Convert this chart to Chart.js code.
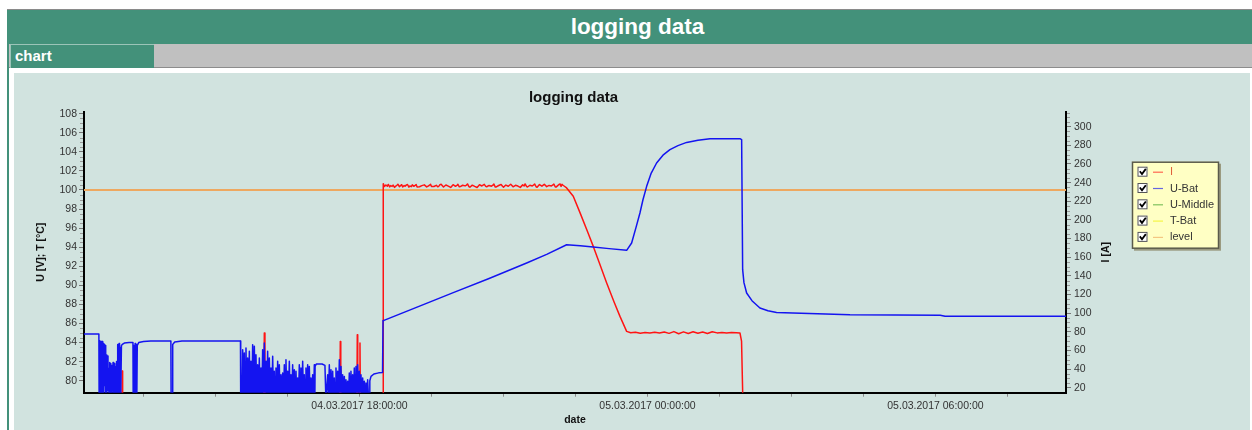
<!DOCTYPE html>
<html>
<head>
<meta charset="utf-8">
<title>logging data</title>
<script src="https://cdn.jsdelivr.net/npm/chart.js@4.4.0/dist/chart.umd.min.js"></script>
<style>
  body { margin: 0; width: 1252px; height: 430px; overflow: hidden; background: #fff; position: relative;
         font-family: "Liberation Sans", Arial, sans-serif; }
  #topline { position: absolute; left: 7px; top: 9px; width: 1245px; height: 1px; background: #8a8a8a; }
  #header { position: absolute; left: 7px; top: 10px; width: 1261px; height: 34px; background: #43917a;
            color: #fff; font-weight: bold; font-size: 22.5px; line-height: 34px; text-align: center; }
  #leftbar { position: absolute; left: 7px; top: 44px; width: 2px; height: 386px; background: #43917a; }
  #tabbar { position: absolute; left: 9px; top: 44px; width: 1243px; height: 23px; background: #c0c0c0;
            border-bottom: 1px solid #8c8c8c; }
  #tab { position: absolute; left: 10px; top: 44px; width: 144px; height: 24px; box-sizing: border-box;
         background: #43917a; border-top: 1px solid #9cc4b8; border-left: 1px solid #9cc4b8;
         color: #fff; font-weight: bold; font-size: 15px; line-height: 22px; padding-left: 4px; }
  #panel { position: absolute; left: 14px; top: 73px; width: 1236px; height: 357px; background: #d1e3df; }
  canvas { display: block; }
</style>
</head>
<body>
<div id="topline"></div>
<div id="header">logging data</div>
<div id="leftbar"></div>
<div id="tabbar"></div>
<div id="tab">chart</div>
<div id="panel"><canvas id="chart" width="1236" height="357"></canvas></div>

<script>
// x values are hours counted from 04.03.2017 00:00
var xMin = 12.26;
var xMax = 32.72;
var xTickHours = [13.5, 15, 16.5, 18, 19.5, 21, 22.5, 24, 25.5, 27, 28.5, 30, 31.5];
var xLabelHours = [18, 24, 30];
var xLabelTexts = ['04.03.2017 18:00:00', '05.03.2017 00:00:00', '05.03.2017 06:00:00'];

var uMin = 78.74, uMax = 108.21;   // left axis, U [V]; T [°C]
var iMin = 14.64, iMax = 316.09;   // right axis, I [A]

// U-Bat [hours, volts]
var uBatData = [
  [12.26, 84.9], [12.57, 84.9], [12.575, 78],
  [12.59, 84.2], [12.6, 78], [12.615, 84.1], [12.625, 78], [12.641, 84.1], [12.65, 78],
  [12.662, 83.9], [12.67, 78], [12.68, 83.8], [12.69, 79.5], [12.702, 83.7], [12.712, 78],
  [12.725, 82.7], [12.735, 78], [12.748, 82.6], [12.76, 79], [12.772, 81.3], [12.781, 78],
  [12.795, 81.9], [12.805, 78.5], [12.818, 81.8], [12.83, 78], [12.842, 81.6], [12.852, 79],
  [12.865, 81.9], [12.877, 78], [12.89, 81.8], [12.9, 78], [12.912, 81.5], [12.925, 78],
  [12.938, 82.0], [12.95, 78], [12.962, 83.8], [12.975, 78], [12.99, 83.9], [13.0, 78.5],
  [13.015, 83.5], [13.025, 78], [13.04, 83.7], [13.058, 83.8], [13.1, 83.95], [13.2, 84.0],
  [13.28, 84.0], [13.285, 78], [13.3, 83.7], [13.31, 78], [13.325, 83.9], [13.335, 78],
  [13.35, 83.8], [13.36, 78], [13.37, 83.7], [13.4, 84.0], [13.5, 84.1], [13.65, 84.15],
  [14.07, 84.15], [14.075, 78], [14.1, 78], [14.108, 83.8], [14.15, 84.05], [14.3, 84.15],
  [15.52, 84.15], [15.525, 78],
  [15.548, 78], [15.566, 83.25], [15.583, 78], [15.6, 82.9], [15.618, 78], [15.635, 83.43],
  [15.652, 78], [15.67, 82.38], [15.687, 78], [15.705, 83.08], [15.722, 78], [15.739, 82.03],
  [15.757, 78], [15.774, 83.77], [15.791, 78], [15.809, 83.6], [15.826, 78], [15.843, 82.72],
  [15.861, 78], [15.878, 81.68], [15.896, 78], [15.913, 82.38], [15.93, 78], [15.948, 81.33],
  [15.965, 78], [15.982, 83.25], [16.0, 78], [16.017, 83.95], [16.034, 78], [16.052, 82.03],
  [16.069, 78], [16.086, 83.08], [16.104, 78], [16.121, 82.38], [16.139, 78], [16.156, 81.33],
  [16.173, 78], [16.191, 82.55], [16.208, 78], [16.225, 80.98], [16.243, 78], [16.26, 81.33],
  [16.277, 78], [16.295, 82.03], [16.312, 78], [16.329, 81.68], [16.347, 78], [16.364, 80.63],
  [16.382, 78], [16.399, 80.8], [16.416, 78], [16.434, 81.68], [16.451, 78], [16.468, 82.2],
  [16.486, 78], [16.503, 80.98], [16.521, 78], [16.538, 82.03], [16.555, 78], [16.572, 80.63],
  [16.59, 78], [16.607, 81.68], [16.625, 78], [16.642, 81.15], [16.659, 78], [16.677, 80.98],
  [16.694, 78], [16.711, 80.28], [16.729, 78], [16.746, 81.68], [16.764, 78], [16.781, 81.33],
  [16.798, 78], [16.816, 82.03], [16.833, 78], [16.85, 80.63], [16.868, 78], [16.885, 81.33],
  [16.903, 78], [16.92, 81.68], [16.937, 78], [16.954, 81.5], [16.972, 78], [16.989, 80.28],
  [17.007, 78], [17.024, 80.63], [17.041, 78], [17.059, 81.68], [17.07, 78],
  [17.075, 81.5], [17.1, 81.75], [17.22, 81.75], [17.28, 81.6], [17.3, 78],
  [17.337, 80.63], [17.354, 78], [17.371, 81.68], [17.388, 78], [17.406, 81.15], [17.423, 78],
  [17.441, 80.98], [17.458, 78], [17.475, 80.28], [17.492, 78], [17.51, 81.33], [17.527, 78],
  [17.545, 80.98], [17.562, 78], [17.58, 82.2], [17.597, 78], [17.614, 81.5], [17.631, 78],
  [17.649, 80.63], [17.666, 78], [17.684, 80.45], [17.701, 78], [17.718, 80.1], [17.735, 78],
  [17.753, 79.93], [17.77, 78], [17.788, 80.8], [17.805, 78], [17.822, 80.98], [17.839, 78],
  [17.857, 80.63], [17.874, 78], [17.892, 81.33], [17.909, 78], [17.927, 81.5], [17.944, 78],
  [17.961, 81.68], [17.978, 78], [17.996, 80.98], [18.013, 78], [18.031, 80.63], [18.048, 78],
  [18.066, 80.28], [18.083, 78], [18.1, 79.93], [18.117, 78], [18.135, 79.76], [18.152, 78],
  [18.17, 80.1], [18.19, 78], [18.204, 78], [18.215, 80.0], [18.24, 80.45], [18.3, 80.7],
  [18.4, 80.82], [18.48, 80.85], [18.49, 86.3],
  [18.51, 86.32], [19.2, 87.72], [19.954, 89.24], [20.7, 90.72], [21.483, 92.34], [21.9, 93.25],
  [22.316, 94.26], [22.6, 94.15], [22.87, 94.02], [23.2, 93.85], [23.566, 93.67],
  [23.67, 94.44], [23.76, 96.05], [23.843, 97.59], [23.906, 98.98], [23.983, 100.38],
  [24.073, 101.71], [24.19, 102.83], [24.323, 103.65], [24.468, 104.23], [24.635, 104.65],
  [24.816, 104.99], [25.052, 105.22], [25.302, 105.38], [25.927, 105.38],
  [25.962, 105.28], [25.983, 91.64], [26.01, 90.28], [26.066, 89.2],
  [26.177, 88.39], [26.343, 87.62], [26.51, 87.34], [26.69, 87.16],
  [27.03, 87.1], [28.22, 86.92], [30.1, 86.87], [30.2, 86.76], [32.72, 86.76]
];

// I [hours, amperes]
var iData = [
  [12.26, 0], [13.05, 0], [13.058, 38], [13.065, 0],
  [16.005, 0], [16.017, 78.7], [16.03, 0],
  [17.59, 0], [17.6, 69.7], [17.61, 0],
  [17.945, 0], [17.954, 76.9], [17.963, 0],
  [18.0, 0], [18.01, 68], [18.02, 0],
  [18.49, 0], [18.495, 238.9],
  [18.52, 235.8], [18.55, 237.5], [18.58, 236.2], [18.6, 238.0], [18.63, 235.4], [18.65, 236.8],
  [18.68, 235.9], [18.7, 237.4], [18.73, 234.9], [18.75, 236.0], [18.78, 237.2], [18.8, 238.3],
  [18.83, 235.6], [18.85, 236.5], [18.88, 237.8], [18.9, 235.3], [18.93, 236.9], [18.95, 236.2],
  [18.98, 237.6], [19.0, 238.0], [19.03, 235.2], [19.05, 236.4], [19.08, 235.7], [19.1, 237.6],
  [19.13, 236.1], [19.15, 236.6], [19.18, 237.9], [19.2, 235.4], [19.25, 235.6], [19.3, 236.8],
  [19.35, 237.6], [19.4, 235.4], [19.43, 236.3], [19.45, 236.9], [19.48, 238.2], [19.5, 235.9],
  [19.55, 235.8], [19.6, 237.1], [19.63, 235.5], [19.65, 236.0], [19.68, 237.9], [19.7, 238.3],
  [19.75, 235.3], [19.8, 237.5], [19.85, 236.3], [19.9, 234.9], [19.95, 237.8], [20.0, 236.1],
  [20.03, 237.0], [20.05, 238.2], [20.08, 235.5], [20.1, 235.7], [20.15, 237.2], [20.2, 236.5],
  [20.23, 237.4], [20.25, 238.6], [20.28, 235.8], [20.3, 235.1], [20.35, 237.3], [20.4, 236.0],
  [20.45, 234.8], [20.5, 237.7], [20.55, 236.4], [20.6, 238.1], [20.63, 236.0], [20.65, 235.6],
  [20.7, 237.0], [20.75, 236.2], [20.78, 237.3], [20.8, 238.4], [20.83, 235.2], [20.85, 235.4],
  [20.9, 236.9], [20.95, 238.0], [20.98, 236.1], [21.0, 235.2], [21.05, 237.4], [21.1, 236.1],
  [21.15, 238.3], [21.2, 235.5], [21.25, 237.1], [21.3, 236.3], [21.35, 234.9], [21.4, 237.6],
  [21.43, 236.4], [21.45, 238.6], [21.48, 236.0], [21.5, 235.3], [21.55, 237.2], [21.6, 236.4],
  [21.63, 237.6], [21.65, 238.5], [21.68, 235.6], [21.7, 235.0], [21.75, 237.9], [21.8, 236.2],
  [21.85, 238.2], [21.9, 235.7], [21.95, 237.0], [22.0, 236.5], [22.03, 237.5], [22.05, 238.4],
  [22.08, 235.3], [22.1, 235.4], [22.13, 236.8], [22.15, 237.7], [22.18, 238.6], [22.2, 236.0],
  [22.22, 238.2], [22.24, 237.2], [22.27, 236.1],
  [22.316, 234.3], [22.454, 225.3], [22.6, 207.0], [22.75, 187.5], [22.871, 171.6],
  [23.0, 153.4], [23.15, 132.3], [23.3, 112.5], [23.427, 96.5], [23.566, 80.4],
  [23.65, 78.9], [23.75, 79.6], [23.85, 78.5], [23.95, 79.2], [24.05, 78.7], [24.15, 79.4],
  [24.25, 78.6], [24.35, 79.8], [24.45, 78.3], [24.55, 80.2], [24.65, 77.9], [24.75, 79.9],
  [24.85, 78.2], [24.95, 80.0], [25.05, 78.4], [25.15, 79.7], [25.25, 78.1], [25.35, 80.1],
  [25.45, 78.8], [25.55, 79.3], [25.65, 78.6], [25.75, 79.1], [25.85, 78.9], [25.927, 78.7],
  [25.96, 70], [25.99, 0], [32.72, 0]
];

var uMiddleData = [];
var tBatData = [];
var levelData = [[12.26, 100], [32.72, 100]];

var FONT = '"Liberation Sans", Arial, sans-serif';
Chart.defaults.font.family = FONT;

var overlay = {
  id: 'overlay',
  afterDraw: function(chart) {
    var ctx = chart.ctx;
    var area = chart.chartArea;
    var y = chart.scales.y;
    var y1 = chart.scales.y1;
    var v, p;

    // minor ticks on both value axes
    ctx.save();
    ctx.strokeStyle = '#9a9a9a';
    ctx.lineWidth = 1;
    ctx.beginPath();
    for (v = 80; v <= uMax; v += 0.5) {
      if (v % 2 === 0) continue;
      p = Math.round(y.getPixelForValue(v)) + 0.5;
      ctx.moveTo(area.left - 4, p); ctx.lineTo(area.left - 1, p);
    }
    for (v = 20; v <= iMax; v += 5) {
      if (v % 20 === 0) continue;
      p = Math.round(y1.getPixelForValue(v)) + 0.5;
      ctx.moveTo(area.right + 1, p); ctx.lineTo(area.right + 4, p);
    }
    ctx.stroke();
    ctx.restore();

    // right axis title, read bottom to top
    ctx.save();
    ctx.translate(y1.right - 10.3, (area.top + area.bottom) / 2);
    ctx.rotate(-Math.PI / 2);
    ctx.font = 'bold 10.5px ' + FONT;
    ctx.fillStyle = '#111';
    ctx.textAlign = 'center';
    ctx.textBaseline = 'middle';
    ctx.fillText('I [A]', 0, 0);
    ctx.restore();

    // legend box
    var bx = area.right + 66, by = area.top + 50, bw = 87, bh = 87;
    ctx.save();
    ctx.fillStyle = '#9a9a80';
    ctx.fillRect(bx + 2, by + 2, bw, bh);
    ctx.fillStyle = '#ffffc4';
    ctx.fillRect(bx, by, bw, bh);
    ctx.strokeStyle = '#5a5a4a';
    ctx.lineWidth = 1.5;
    ctx.strokeRect(bx + 0.5, by + 0.5, bw - 1, bh - 1);
    ctx.font = '11px ' + FONT;
    ctx.textBaseline = 'middle';
    chart.data.datasets.forEach(function(ds, i) {
      var ry = by + 10 + i * 16.3;
      // checkbox
      ctx.fillStyle = '#fff';
      ctx.fillRect(bx + 5.5, ry - 5, 10, 10);
      ctx.strokeStyle = '#555';
      ctx.lineWidth = 1;
      ctx.strokeRect(bx + 6, ry - 4.5, 9, 9);
      ctx.strokeStyle = '#000';
      ctx.lineWidth = 1.8;
      ctx.beginPath();
      ctx.moveTo(bx + 7.8, ry - 0.5);
      ctx.lineTo(bx + 10, ry + 2.3);
      ctx.lineTo(bx + 13.8, ry - 2.8);
      ctx.stroke();
      // line sample
      ctx.globalAlpha = 0.65;
      ctx.strokeStyle = ds.borderColor;
      ctx.lineWidth = 1.2;
      ctx.beginPath();
      ctx.moveTo(bx + 21, ry + 0.5);
      ctx.lineTo(bx + 31, ry + 0.5);
      ctx.stroke();
      ctx.globalAlpha = 1;
      ctx.fillStyle = i === 0 ? '#e0603a' : '#333';
      ctx.fillText(ds.label, bx + 38, ry + 0.5);
    });
    ctx.restore();
  }
};

var chart = new Chart(document.getElementById('chart').getContext('2d'), {
  type: 'line',
  data: {
    datasets: [
      { label: 'I', data: iData, yAxisID: 'y1', borderColor: '#ff1414', borderWidth: 1.5, order: 2 },
      { label: 'U-Bat', data: uBatData, yAxisID: 'y', borderColor: '#1414f0', borderWidth: 1.5, order: 1 },
      { label: 'U-Middle', data: uMiddleData, yAxisID: 'y', borderColor: '#3aa02a', borderWidth: 1.5, order: 1 },
      { label: 'T-Bat', data: tBatData, yAxisID: 'y', borderColor: '#f0f000', borderWidth: 1.5, order: 1 },
      { label: 'level', data: levelData, yAxisID: 'y', borderColor: '#eea860', borderWidth: 2, order: 3 }
    ]
  },
  options: {
    responsive: false,
    animation: false,
    events: [],
    datasets: { line: { clip: 0 } },
    elements: { point: { radius: 0 }, line: { tension: 0, borderJoinStyle: 'round' } },
    layout: { padding: { left: 17, right: 134, top: 0, bottom: 0 } },
    plugins: {
      legend: { display: false },
      tooltip: { enabled: false },
      title: {
        display: true,
        text: 'logging data',
        color: '#111',
        font: { size: 15, weight: 'bold' },
        padding: { top: 16, bottom: 4.7 }
      }
    },
    scales: {
      x: {
        type: 'linear',
        min: xMin,
        max: xMax,
        afterBuildTicks: function(axis) {
          axis.ticks = xTickHours.map(function(h) { return { value: h }; });
        },
        afterFit: function(axis) { axis.height = 37.3; },
        border: { color: '#000', width: 2 },
        grid: { drawOnChartArea: false, tickLength: 4, color: '#8a8a8a' },
        ticks: {
          autoSkip: false, maxRotation: 0, minRotation: 0, padding: 3,
          color: '#333', font: { size: 10.5 },
          callback: function(value) {
            var k = xLabelHours.indexOf(value);
            return k >= 0 ? xLabelTexts[k] : '';
          }
        },
        title: { display: true, text: 'date', color: '#111', font: { size: 10.5, weight: 'bold' },
                 padding: { top: 0, bottom: 4 } }
      },
      y: {
        position: 'left',
        min: uMin,
        max: uMax,
        afterFit: function(axis) { axis.width = 53; },
        border: { color: '#000', width: 2 },
        grid: { drawOnChartArea: false, tickLength: 5, color: '#777' },
        ticks: { stepSize: 2, includeBounds: false, padding: 2, color: '#333', font: { size: 10.5 } },
        title: { display: true, text: 'U [V]; T [°C]', color: '#111', font: { size: 10.5, weight: 'bold' },
                 padding: { top: 4, bottom: 0 } }
      },
      y1: {
        position: 'right',
        min: iMin,
        max: iMax,
        afterFit: function(axis) { axis.width = 50; },
        border: { color: '#000', width: 2 },
        grid: { drawOnChartArea: false, tickLength: 5, color: '#777' },
        ticks: { stepSize: 20, includeBounds: false, padding: 3, color: '#333', font: { size: 10.5 } },
        title: { display: false }
      }
    }
  },
  plugins: [overlay]
});
</script>
</body>
</html>
